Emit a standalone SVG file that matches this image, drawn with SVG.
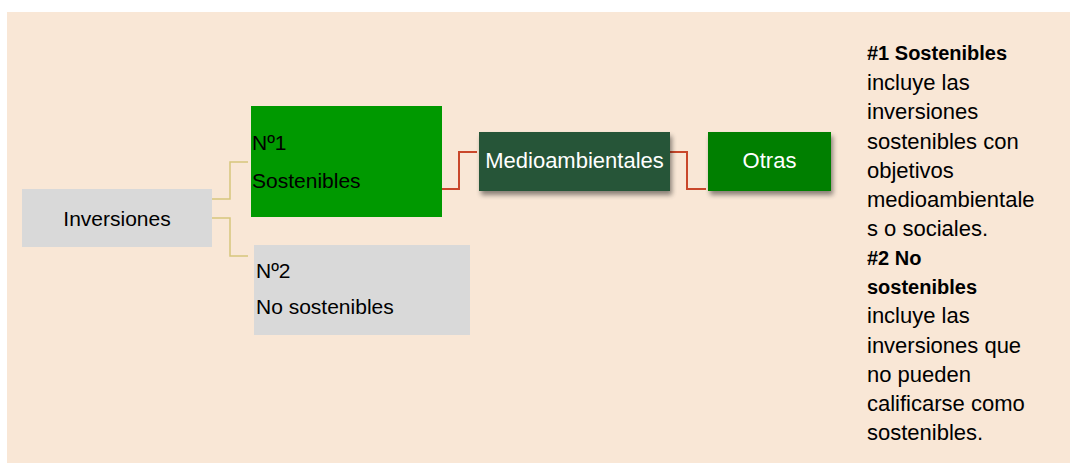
<svg xmlns="http://www.w3.org/2000/svg" width="1070" height="463" viewBox="0 0 1070 463">
<defs>
<style>
text{font-family:"Liberation Sans",Arial,sans-serif;font-size:21px;fill:#000}
.w{fill:#fff;font-size:22px}
.b{font-weight:bold;font-size:20px}
.l{font-size:22px}
.tan{fill:none;stroke:#d6c67c;stroke-width:1.5}
.red{fill:none;stroke:#c9472a;stroke-width:2}
</style>
<filter id="sh" x="-10%" y="-20%" width="125%" height="150%">
<feGaussianBlur in="SourceAlpha" stdDeviation="2.5"/>
<feOffset dx="2" dy="4" result="b"/>
<feComponentTransfer><feFuncA type="linear" slope="0.45"/></feComponentTransfer>
<feMerge><feMergeNode/><feMergeNode in="SourceGraphic"/></feMerge>
</filter>
</defs>
<rect x="0" y="0" width="1070" height="463" fill="#fff"/>
<rect x="7" y="12" width="1063" height="451" fill="#f9e7d6"/>
<g id="connectors">
<polyline class="tan" points="212,199 230,199 230,162 248,162"/>
<polyline class="tan" points="212,218 230,218 230,256 248,256"/>
<polyline class="red" points="442,189 459,189 459,152 477,152"/>
<polyline class="red" points="670,152 687,152 687,189 706,189"/>
</g>
<g id="inversiones">
<rect x="22" y="189" width="190" height="58" fill="#d9d9d9"/>
<text x="117" y="226" text-anchor="middle">Inversiones</text>
</g>
<g id="n1">
<rect x="251" y="106" width="191" height="111" fill="#009900"/>
<text x="252" y="150">Nº1</text>
<text x="252" y="188">Sostenibles</text>
</g>
<g id="n2">
<rect x="254" y="245" width="216" height="90" fill="#d9d9d9"/>
<text x="256" y="278">Nº2</text>
<text x="256" y="314">No sostenibles</text>
</g>
<g id="medio">
<rect x="479" y="132" width="191" height="59" fill="#255439" filter="url(#sh)"/>
<text class="w" x="574.5" y="168" text-anchor="middle">Medioambientales</text>
</g>
<g id="otras">
<rect x="708" y="132" width="123" height="59" fill="#007f00" filter="url(#sh)"/>
<text class="w" x="769.5" y="168" text-anchor="middle">Otras</text>
</g>
<g id="legend">
<text class="b" x="867" y="60">#1 Sostenibles</text>
<text class="l" x="867" y="90">incluye las</text>
<text class="l" x="867" y="119">inversiones</text>
<text class="l" x="867" y="149">sostenibles con</text>
<text class="l" x="867" y="178">objetivos</text>
<text class="l" x="867" y="207">medioambientale</text>
<text class="l" x="867" y="236">s o sociales.</text>
<text class="b" x="867" y="265">#2 No</text>
<text class="b" x="867" y="294">sostenibles</text>
<text class="l" x="867" y="323">incluye las</text>
<text class="l" x="867" y="353">inversiones que</text>
<text class="l" x="867" y="382">no pueden</text>
<text class="l" x="867" y="411">calificarse como</text>
<text class="l" x="867" y="440">sostenibles.</text>
</g>
</svg>
